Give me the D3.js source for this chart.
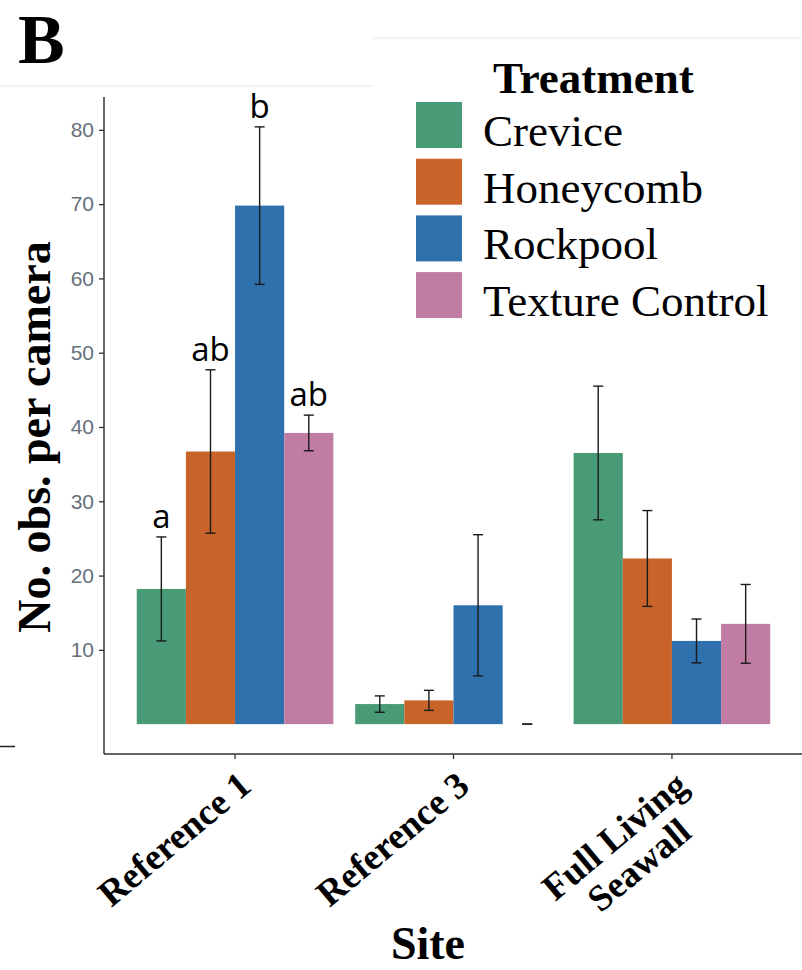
<!DOCTYPE html>
<html>
<head>
<meta charset="utf-8">
<script src="https://cdn.jsdelivr.net/npm/d3@7"></script>
<style>
  html, body { margin: 0; padding: 0; background: #fff; }
  svg { display: block; }
</style>
</head>
<body>
<svg id="chart" width="802" height="970"></svg>
<script>
// Sites on the x axis and the label lines used for each
const sites = ["Reference 1", "Reference 3", "Full Living Seawall"];
const siteLabelLines = [["Reference 1"], ["Reference 3"], ["Full Living", "Seawall"]];

// Treatments (fill groups) and their colours
const treatments = ["Crevice", "Honeycomb", "Rockpool", "Texture Control"];
const treatmentColors = ["#489b76", "#c8642a", "#2f71ad", "#c17ca3"];

// Mean number of observations per camera, by site (same order as `sites`)
const meanCrevice   = [18.2, 2.7, 36.5];
const meanHoneycomb = [36.7, 3.2, 22.3];
const meanRockpool  = [69.8, 16.0, 11.2];
const meanTexture   = [39.2, 0.0, 13.5];

// Standard errors, by site
const seCrevice   = [7.0, 1.1, 9.0];
const seHoneycomb = [11.0, 1.35, 6.45];
const seRockpool  = [10.6, 9.5, 2.95];
const seTexture   = [2.4, 0.0, 5.3];

// Post-hoc group letters (Reference 1 only)
const lettersRef1 = ["a", "ab", "b", "ab"];

// Y-axis tick values
const yTicks = [10, 20, 30, 40, 50, 60, 70, 80];

const means = [meanCrevice, meanHoneycomb, meanRockpool, meanTexture];
const ses = [seCrevice, seHoneycomb, seRockpool, seTexture];

const rows = [];
sites.forEach((site, si) => {
  treatments.forEach((t, ti) => {
    rows.push({
      site, si, treatment: t, ti,
      mean: means[ti][si],
      se: ses[ti][si],
      letter: si === 0 ? lettersRef1[ti] : null
    });
  });
});

const svg = d3.select("#chart");
const serif = "'Liberation Serif', 'Times New Roman', serif";
const sans = "'Liberation Sans', Arial, sans-serif";

// Panel geometry
const panel = { left: 104, right: 803, top: 97, bottom: 754 };

// Discrete x: 0.6-unit expansion on each side, dodge width 0.9
const x = d3.scaleBand()
  .domain(sites)
  .range([panel.left, panel.right])
  .paddingInner(0.1)
  .paddingOuter(0.15);

const xInner = d3.scaleBand()
  .domain(treatments)
  .range([0, x.bandwidth()])
  .padding(0);

// Continuous y with 5% expansion
const hi = d3.max(rows, d => d.mean + d.se);
const lo = 0;
const pad = (hi - lo) * 0.05;
const y = d3.scaleLinear()
  .domain([lo - pad, hi + pad])
  .range([panel.bottom, panel.top]);

const color = d3.scaleOrdinal().domain(treatments).range(treatmentColors);

// Faint frame lines around the figure
svg.append("line").attr("x1", 0).attr("x2", 373).attr("y1", 86).attr("y2", 86)
  .attr("stroke", "#f1f1f1").attr("stroke-width", 1.5);
svg.append("line").attr("x1", 373).attr("x2", 802).attr("y1", 38).attr("y2", 38)
  .attr("stroke", "#f1f1f1").attr("stroke-width", 1.5);
svg.append("line").attr("x1", 0).attr("x2", 15).attr("y1", 746.5).attr("y2", 746.5)
  .attr("stroke", "#222").attr("stroke-width", 1.5);

// Panel label
svg.append("text")
  .attr("x", 18).attr("y", 62.5)
  .attr("font-family", serif).attr("font-weight", "bold").attr("font-size", 70)
  .attr("fill", "#000")
  .text("B");

// Bars
svg.append("g").selectAll("rect")
  .data(rows)
  .join("rect")
  .attr("x", d => x(d.site) + xInner(d.treatment))
  .attr("width", xInner.bandwidth())
  .attr("y", d => y(Math.max(0, d.mean)))
  .attr("height", d => Math.abs(y(0) - y(d.mean)))
  .attr("fill", d => color(d.treatment));

// Error bars
const capHalf = 5;
const eb = svg.append("g")
  .attr("stroke", "#1a1a1a").attr("stroke-width", 1.4).attr("fill", "none");
rows.forEach(d => {
  const cx = x(d.site) + xInner(d.treatment) + xInner.bandwidth() / 2;
  const y1 = y(d.mean + d.se), y0 = y(d.mean - d.se);
  eb.append("line").attr("x1", cx).attr("x2", cx).attr("y1", y1).attr("y2", y0);
  eb.append("line").attr("x1", cx - capHalf).attr("x2", cx + capHalf).attr("y1", y1).attr("y2", y1);
  eb.append("line").attr("x1", cx - capHalf).attr("x2", cx + capHalf).attr("y1", y0).attr("y2", y0);
});

// Group letters above the error bars
svg.append("g").selectAll("text")
  .data(rows.filter(d => d.letter))
  .join("text")
  .attr("x", d => x(d.site) + xInner(d.treatment) + xInner.bandwidth() / 2)
  .attr("y", d => y(d.mean + d.se) - 9)
  .attr("text-anchor", "middle")
  .attr("font-family", "'Open Sans', sans-serif")
  .attr("font-size", 33)
  .attr("fill", "#000")
  .text(d => d.letter);

// Y axis
const yAxis = svg.append("g")
  .attr("transform", `translate(${panel.left},0)`)
  .call(d3.axisLeft(y).tickValues(yTicks).tickSize(5).tickPadding(5).tickFormat(d3.format("d")));
yAxis.select(".domain").remove();
yAxis.selectAll(".tick line").attr("stroke", "#333").attr("stroke-width", 1.3);
yAxis.selectAll(".tick text")
  .attr("font-family", sans).attr("font-size", 21).attr("fill", "#66707c");
svg.append("line")
  .attr("x1", panel.left).attr("x2", panel.left)
  .attr("y1", panel.top).attr("y2", panel.bottom)
  .attr("stroke", "#333").attr("stroke-width", 1.5);

// X axis
const xAxis = svg.append("g")
  .attr("transform", `translate(0,${panel.bottom})`)
  .call(d3.axisBottom(x).tickSize(5).tickFormat(""));
xAxis.select(".domain").remove();
xAxis.selectAll(".tick line").attr("stroke", "#333").attr("stroke-width", 1.3);
svg.append("line")
  .attr("x1", panel.left).attr("x2", panel.right)
  .attr("y1", panel.bottom).attr("y2", panel.bottom)
  .attr("stroke", "#333").attr("stroke-width", 1.5);

// Rotated site labels: block right end at the anchor, lines centred
const labelSize = 37, labelLead = 38;
sites.forEach((site, si) => {
  const ax = x(site) + x.bandwidth() / 2 + 18;
  const ay = 789;
  const g = svg.append("g").attr("transform", `translate(${ax},${ay}) rotate(-40)`);
  const texts = siteLabelLines[si].map((line, li) =>
    g.append("text")
      .attr("y", li * labelLead)
      .attr("text-anchor", "middle")
      .attr("font-family", serif).attr("font-weight", "bold").attr("font-size", labelSize)
      .attr("fill", "#000")
      .text(line));
  const maxW = d3.max(texts, t => t.node().getComputedTextLength());
  texts.forEach(t => t.attr("x", -maxW / 2));
});

// Axis titles
svg.append("text")
  .attr("x", 428).attr("y", 959)
  .attr("text-anchor", "middle")
  .attr("font-family", serif).attr("font-weight", "bold").attr("font-size", 46)
  .text("Site");

svg.append("text")
  .attr("transform", "translate(50,437) rotate(-90)")
  .attr("text-anchor", "middle")
  .attr("font-family", serif).attr("font-weight", "bold").attr("font-size", 46)
  .text("No. obs. per camera");

// Legend
const legend = svg.append("g");
legend.append("text")
  .attr("x", 493).attr("y", 93)
  .attr("font-family", serif).attr("font-weight", "bold").attr("font-size", 45)
  .text("Treatment");
const keyTop = 102, keyStep = 56.7, keySize = 46;
treatments.forEach((t, i) => {
  legend.append("rect")
    .attr("x", 416).attr("y", keyTop + i * keyStep)
    .attr("width", keySize).attr("height", keySize)
    .attr("fill", color(t));
  legend.append("text")
    .attr("x", 483).attr("y", keyTop + i * keyStep + 44)
    .attr("font-family", serif).attr("font-size", 45)
    .text(t);
});
</script>
</body>
</html>
